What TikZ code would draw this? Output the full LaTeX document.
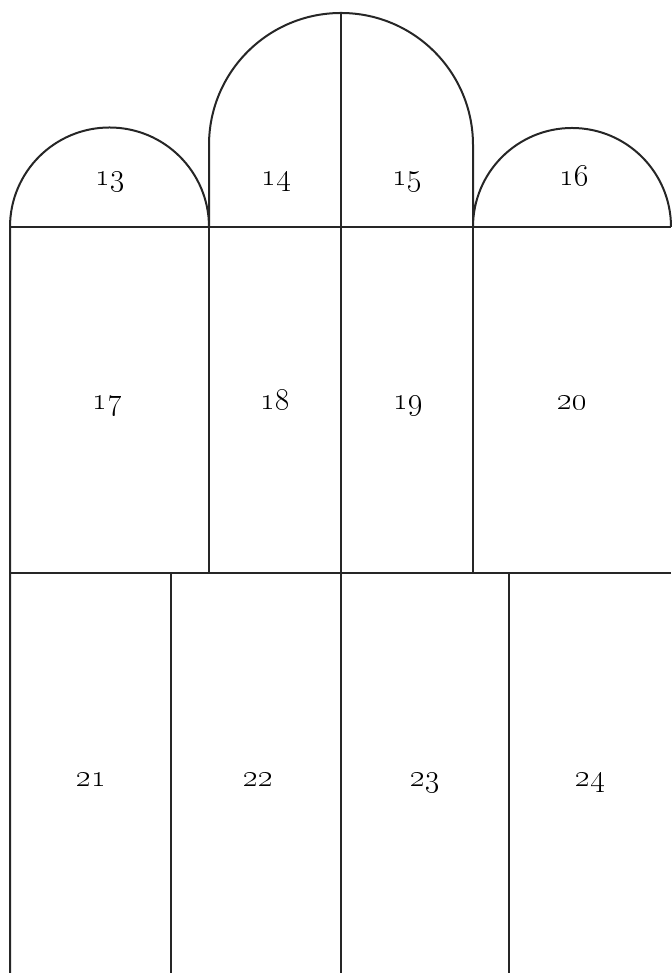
\RequirePackage{fix-cm}
\documentclass[tikz,border=0pt]{standalone}
\usepackage{tikz}

\begin{document}
\begin{tikzpicture}[x=1pt, y=1pt,
            wall/.style={line width=2pt, black!85, line join=round},
            numlbl/.style={anchor=base, inner sep=0pt, font=\fontsize{31}{36}\selectfont}
        ]
            \useasboundingbox (0,0) rectangle (671,973);

            % Outline with the three arches
            \draw[wall] (10,0) -- (10,746)
                arc[start angle=180, end angle=0, radius=99.5] -- (209,828)
                arc[start angle=180, end angle=0, radius=132] -- (473,746)
                arc[start angle=180, end angle=0, radius=99];

            % Horizontal divisions
            \draw[wall] (10,746) -- (671,746);
            \draw[wall] (10,400) -- (671,400);

            % Vertical divisions
            \draw[wall] (341,960) -- (341,0);
            \draw[wall] (209,746) -- (209,400);
            \draw[wall] (473,746) -- (473,400);
            \draw[wall] (171,400) -- (171,0);
            \draw[wall] (509,400) -- (509,0);

            % Top row
            \node[numlbl] (n13) at (110,787) {\oldstylenums{13}};
            \node[numlbl] (n14) at (276,787) {\oldstylenums{14}};
            \node[numlbl] (n15) at (407,787) {\oldstylenums{15}};
            \node[numlbl] (n16) at (574,787) {\oldstylenums{16}};

            % Middle row
            \node[numlbl] (n17) at (107,563) {\oldstylenums{17}};
            \node[numlbl] (n18) at (275,563) {\oldstylenums{18}};
            \node[numlbl] (n19) at (408,563) {\oldstylenums{19}};
            \node[numlbl] (n20) at (572,563) {\oldstylenums{20}};

            % Bottom row
            \node[numlbl] (n21) at (91,186) {\oldstylenums{21}};
            \node[numlbl] (n22) at (258,186) {\oldstylenums{22}};
            \node[numlbl] (n23) at (425,186) {\oldstylenums{23}};
            \node[numlbl] (n24) at (590,186) {\oldstylenums{24}};
        \end{tikzpicture}
\end{document}
